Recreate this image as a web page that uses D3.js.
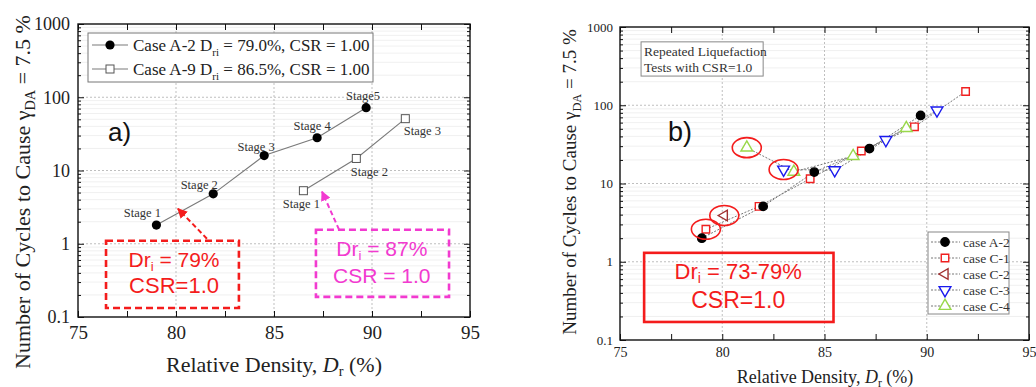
<!DOCTYPE html>
<html>
<head>
<meta charset="utf-8">
<script src="https://cdn.jsdelivr.net/npm/d3@7"></script>
<style>
  body { margin: 0; background: #fff; }
  svg { display: block; }
  .serif { font-family: "Liberation Serif", "Times New Roman", serif; }
  .sans { font-family: "Liberation Sans", Arial, sans-serif; }
</style>
</head>
<body>
<div id="chart"></div>
<script>
// ---- data ----
var xTicks = [75, 80, 85, 90, 95];
var xTickLabels = ["75", "80", "85", "90", "95"];
var yTicks = [0.1, 1, 10, 100, 1000];
var yTickLabels = ["0.1", "1", "10", "100", "1000"];

// panel a)
var caseA2Dr = [79.0, 81.9, 84.5, 87.2, 89.7];
var caseA2N = [1.8, 4.8, 16, 28, 72];
var caseA2Stages = ["Stage 1", "Stage 2", "Stage 3", "Stage 4", "Stage5"];
var caseA9Dr = [86.5, 89.2, 91.7];
var caseA9N = [5.3, 14.6, 51];
var caseA9Stages = ["Stage 1", "Stage 2", "Stage 3"];

// panel b)
var seriesNames = ["case A-2", "case C-1", "case C-2", "case C-3", "case C-4"];
var bA2Dr = [79.0, 82.0, 84.5, 87.2, 89.7];
var bA2N = [2.0, 5.1, 14, 28, 74];
var bC1Dr = [79.2, 81.8, 84.3, 86.8, 89.4, 91.9];
var bC1N = [2.6, 5.1, 11.5, 26, 53, 150];
var bC2Dr = [80.1];
var bC2N = [3.9];
var bC3Dr = [83.0, 85.5, 88.0, 90.5];
var bC3N = [15.1, 14.8, 36, 86];
var bC4Dr = [81.2, 83.5, 86.4, 89.0];
var bC4N = [28.7, 14.1, 22.4, 51];
var circled = [[4, 0], [3, 0], [2, 0], [1, 0]]; // [series, point] that are ringed

var W = 1036, H = 387;
var svg = d3.select("#chart").append("svg").attr("width", W).attr("height", H);

var defs = svg.append("defs");
function arrowMarker(id, color) {
    defs.append("marker")
        .attr("id", id)
        .attr("viewBox", "0 0 10 10")
        .attr("refX", 9).attr("refY", 5)
        .attr("markerWidth", 5).attr("markerHeight", 5)
        .attr("orient", "auto")
        .append("path").attr("d", "M0,0 L10,5 L0,10 z").attr("fill", color);
}
arrowMarker("arRed", "#f41c1c");
arrowMarker("arMag", "#f23ad0");

function minorY() {
    var v = [];
    for (var e = -1; e < 3; e++) for (var k = 2; k < 10; k++) v.push(k * Math.pow(10, e));
    return v;
}
function minorX() { return [77.5, 82.5, 87.5, 92.5]; }

// shared frame: grid, ticks on all four sides, labels
function frame(g, x, y, o) {
    var x0 = x.range()[0], x1 = x.range()[1], y0 = y.range()[0], y1 = y.range()[1];

    // minor y grid
    g.append("g").selectAll("line").data(minorY()).enter().append("line")
        .attr("x1", x0).attr("x2", x1)
        .attr("y1", function (d) { return y(d); }).attr("y2", function (d) { return y(d); })
        .style("stroke", "#ececec").style("stroke-width", 0.8);
    // major grid, dotted
    g.append("g").selectAll("line").data([80, 85, 90]).enter().append("line")
        .attr("x1", function (d) { return x(d); }).attr("x2", function (d) { return x(d); })
        .attr("y1", y0).attr("y2", y1)
        .style("stroke", "#b8b8b8").style("stroke-dasharray", "2,2").style("stroke-width", 0.9);
    g.append("g").selectAll("line").data([1, 10, 100]).enter().append("line")
        .attr("x1", x0).attr("x2", x1)
        .attr("y1", function (d) { return y(d); }).attr("y2", function (d) { return y(d); })
        .style("stroke", "#b8b8b8").style("stroke-dasharray", "2,2").style("stroke-width", 0.9);

    var major = 6, minor = 3;
    function ax(a, tr) {
        var gg = g.append("g").attr("transform", tr).call(a);
        gg.select(".domain").remove();
        gg.selectAll("line").style("stroke", "#111");
        return gg;
    }
    // bottom
    var bx = ax(d3.axisBottom(x).tickValues(xTicks).tickSize(-major).tickPadding(o.xPad)
        .tickFormat(function (d, i) { return xTickLabels[i]; }), "translate(0," + y0 + ")");
    bx.selectAll("text").attr("class", "serif").style("font-size", o.xFont + "px").style("fill", "#222");
    ax(d3.axisBottom(x).tickValues(minorX()).tickSize(-major).tickFormat(""), "translate(0," + y0 + ")");
    // top
    ax(d3.axisTop(x).tickValues(xTicks.concat(minorX())).tickSize(-major).tickFormat(""), "translate(0," + y1 + ")");
    // left
    var ly = ax(d3.axisLeft(y).tickValues(yTicks).tickSize(-major).tickPadding(o.yPad)
        .tickFormat(function (d, i) { return yTickLabels[i]; }), "translate(" + x0 + ",0)");
    ly.selectAll("text").attr("class", "serif").style("font-size", o.yFont + "px").style("fill", "#222");
    ax(d3.axisLeft(y).tickValues(minorY()).tickSize(-minor).tickFormat(""), "translate(" + x0 + ",0)");
    // right
    ax(d3.axisRight(y).tickValues(yTicks).tickSize(-major).tickFormat(""), "translate(" + x1 + ",0)");
    ax(d3.axisRight(y).tickValues(minorY()).tickSize(-minor).tickFormat(""), "translate(" + x1 + ",0)");

    g.append("rect")
        .attr("x", x0).attr("y", y1).attr("width", x1 - x0).attr("height", y0 - y1)
        .style("fill", "none").style("stroke", "#111").style("stroke-width", 1.4);

    // axis titles
    var xt = g.append("text").attr("class", "serif")
        .attr("x", o.xTitle[0]).attr("y", o.xTitle[1])
        .attr("text-anchor", "middle").style("font-size", o.titleFontX + "px").style("fill", "#222");
    xt.append("tspan").text("Relative Density, ");
    xt.append("tspan").style("font-style", "italic").text("D");
    xt.append("tspan").attr("dy", 4).style("font-size", (o.titleFontX * 0.65) + "px").text("r");
    xt.append("tspan").attr("dy", -4).text(" (%)");

    var yt = g.append("text").attr("class", "serif")
        .attr("transform", "translate(" + o.yTitle[0] + "," + o.yTitle[1] + ") rotate(-90)")
        .attr("text-anchor", "middle").style("font-size", o.titleFontY + "px").style("fill", "#222");
    yt.append("tspan").text("Number of Cycles to Cause \u03b3");
    yt.append("tspan").attr("dy", 5).style("font-size", (o.titleFontY * 0.65) + "px").text("DA");
    yt.append("tspan").attr("dy", -5).text(" = 7.5 %");
}

function subText(g, xx, yy, parts, size, color, anchor) {
    var t = g.append("text").attr("class", "sans")
        .attr("x", xx).attr("y", yy).attr("text-anchor", anchor || "middle")
        .style("font-size", size + "px").style("fill", color);
    parts.forEach(function (p) {
        var s = t.append("tspan").text(p[0]);
        if (p[1]) s.attr("dy", p[1]);
        if (p[2]) s.style("font-size", p[2] + "px");
    });
    return t;
}

// ================= panel a) =================
var xa = d3.scaleLinear().domain([75, 95]).range([78, 470]);
var ya = d3.scaleLog().domain([0.1, 1000]).range([317, 24]);
var ga = svg.append("g");
frame(ga, xa, ya, { xPad: 9, yPad: 8, xFont: 19, yFont: 18, titleFontX: 22, titleFontY: 22,
    xTitle: [274, 372], yTitle: [30, 192] });

var lineA = d3.line().x(function (d) { return xa(d[0]); }).y(function (d) { return ya(d[1]); });
var a2 = d3.zip(caseA2Dr, caseA2N), a9 = d3.zip(caseA9Dr, caseA9N);
ga.append("path").datum(a2).attr("d", lineA)
    .style("fill", "none").style("stroke", "#7a7a7a").style("stroke-width", 1.1);
ga.append("path").datum(a9).attr("d", lineA)
    .style("fill", "none").style("stroke", "#7a7a7a").style("stroke-width", 1.1);
ga.append("g").selectAll("circle").data(a2).enter().append("circle")
    .attr("cx", function (d) { return xa(d[0]); }).attr("cy", function (d) { return ya(d[1]); })
    .attr("r", 4.6).style("fill", "#000");
ga.append("g").selectAll("rect").data(a9).enter().append("rect")
    .attr("x", function (d) { return xa(d[0]) - 4; }).attr("y", function (d) { return ya(d[1]) - 4; })
    .attr("width", 8).attr("height", 8)
    .style("fill", "#fff").style("stroke", "#555").style("stroke-width", 1);

var a2Off = [[-14, -8], [-14, -5], [-8, -5], [-5, -8], [-3, -8]];
var a9Off = [[-2, 17], [13, 18], [17, 16]];
ga.append("g").selectAll("text").data(a2).enter().append("text").attr("class", "serif")
    .attr("x", function (d, i) { return xa(d[0]) + a2Off[i][0]; })
    .attr("y", function (d, i) { return ya(d[1]) + a2Off[i][1]; })
    .attr("text-anchor", "middle").style("font-size", "12.5px").style("fill", "#333")
    .text(function (d, i) { return caseA2Stages[i]; });
ga.append("g").selectAll("text").data(a9).enter().append("text").attr("class", "serif")
    .attr("x", function (d, i) { return xa(d[0]) + a9Off[i][0]; })
    .attr("y", function (d, i) { return ya(d[1]) + a9Off[i][1]; })
    .attr("text-anchor", "middle").style("font-size", "12.5px").style("fill", "#333")
    .text(function (d, i) { return caseA9Stages[i]; });

// legend a)
var lg = ga.append("g").attr("transform", "translate(88,33)");
lg.append("rect").attr("width", 285).attr("height", 49)
    .style("fill", "#fff").style("stroke", "#777").style("stroke-width", 1);
[["Case A-2 D", "ri", " = 79.0%, CSR = 1.00"], ["Case A-9 D", "ri", " = 86.5%, CSR = 1.00"]].forEach(function (r, i) {
    var cy = 12 + i * 24;
    lg.append("line").attr("x1", 4).attr("x2", 40).attr("y1", cy).attr("y2", cy)
        .style("stroke", "#7a7a7a").style("stroke-width", 1.1);
    if (i === 0) lg.append("circle").attr("cx", 22).attr("cy", cy).attr("r", 4.6).style("fill", "#000");
    else lg.append("rect").attr("x", 18).attr("y", cy - 4).attr("width", 8).attr("height", 8)
        .style("fill", "#fff").style("stroke", "#555");
    var t = lg.append("text").attr("class", "serif").attr("x", 45).attr("y", cy + 6)
        .style("font-size", "17px").style("fill", "#222");
    t.append("tspan").text(r[0]);
    t.append("tspan").attr("dy", 5).style("font-size", "11px").text(r[1]);
    t.append("tspan").attr("dy", -5).text(r[2]);
});

ga.append("text").attr("class", "sans").attr("x", xa(76.53)).attr("y", ya(34) + 9)
    .style("font-size", "26px").style("fill", "#111").text("a)");

// annotation boxes a)
ga.append("rect")
    .attr("x", xa(76.43)).attr("y", ya(1.1)).attr("width", xa(83.21) - xa(76.43)).attr("height", ya(0.133) - ya(1.1))
    .style("fill", "none").style("stroke", "#f41c1c").style("stroke-width", 2.6).style("stroke-dasharray", "7,4");
subText(ga, xa(79.9), ya(0.6) + 7, [["Dr"], ["i", 4, 13], [" = 79%", -4, 21]], 21, "#f41c1c");
subText(ga, xa(79.9), ya(0.27) + 8, [["CSR=1.0"]], 22, "#f41c1c");
ga.append("line")
    .attr("x1", xa(81.58)).attr("y1", ya(1.17)).attr("x2", xa(80.1)).attr("y2", ya(3.0))
    .style("stroke", "#f41c1c").style("stroke-width", 2).style("stroke-dasharray", "5,3")
    .attr("marker-end", "url(#arRed)");

ga.append("rect")
    .attr("x", xa(87.14)).attr("y", ya(1.555)).attr("width", xa(93.93) - xa(87.14)).attr("height", ya(0.188) - ya(1.555))
    .style("fill", "none").style("stroke", "#f23ad0").style("stroke-width", 2.6).style("stroke-dasharray", "7,4");
subText(ga, xa(90.5), ya(0.84) + 7, [["Dr"], ["i", 4, 13], [" = 87%", -4, 21]], 21, "#f23ad0");
subText(ga, xa(90.5), ya(0.37) + 8, [["CSR = 1.0"]], 21, "#f23ad0");
ga.append("line")
    .attr("x1", xa(88.32)).attr("y1", ya(1.555)).attr("x2", xa(87.45)).attr("y2", ya(5.15))
    .style("stroke", "#f23ad0").style("stroke-width", 2).style("stroke-dasharray", "5,3")
    .attr("marker-end", "url(#arMag)");

// ================= panel b) =================
var xb = d3.scaleLinear().domain([75, 95]).range([620, 1029]);
var yb = d3.scaleLog().domain([0.1, 1000]).range([340, 27]);
var gb = svg.append("g");
frame(gb, xb, yb, { xPad: 7, yPad: 7, xFont: 14, yFont: 13, titleFontX: 18, titleFontY: 19,
    xTitle: [825, 383], yTitle: [576, 182] });

var colors = ["#000000", "#f02020", "#a03030", "#1a1aee", "#99d84a"];
var symbols = [d3.symbolCircle, d3.symbolSquare, d3.symbolTriangle, d3.symbolTriangle, d3.symbolTriangle];
var sizes = [55, 56, 48, 60, 60];
var rotations = [0, 0, -90, 180, 0];
var bSeries = [d3.zip(bA2Dr, bA2N), d3.zip(bC1Dr, bC1N), d3.zip(bC2Dr, bC2N), d3.zip(bC3Dr, bC3N), d3.zip(bC4Dr, bC4N)];

var lineB = d3.line().x(function (d) { return xb(d[0]); }).y(function (d) { return yb(d[1]); });
bSeries.forEach(function (s) {
    gb.append("path").datum(s).attr("d", lineB)
        .style("fill", "none").style("stroke", "#777").style("stroke-width", 1).style("stroke-dasharray", "2,1.5");
});
function drawSym(g, i, px, py) {
    g.append("path")
        .attr("d", d3.symbol().type(symbols[i]).size(sizes[i]))
        .attr("transform", "translate(" + px + "," + py + ") rotate(" + rotations[i] + ")")
        .style("fill", i === 0 ? "#000" : "#fff")
        .style("stroke", colors[i]).style("stroke-width", 1.4);
}
[1, 2, 3, 4, 0].forEach(function (i) {
    bSeries[i].forEach(function (d) { drawSym(gb, i, xb(d[0]), yb(d[1])); });
});

// red rings
gb.append("g").selectAll("ellipse").data(circled).enter().append("ellipse")
    .attr("cx", function (d) { return xb(bSeries[d[0]][d[1]][0]); })
    .attr("cy", function (d) { return yb(bSeries[d[0]][d[1]][1]); })
    .attr("rx", 14.5).attr("ry", 10)
    .style("fill", "none").style("stroke", "#f41c1c").style("stroke-width", 1.6);

// info box
var ib = gb.append("g").attr("transform", "translate(" + xb(76.03) + "," + yb(646) + ")");
ib.append("rect").attr("width", xb(82.0) - xb(76.03)).attr("height", yb(236) - yb(646))
    .style("fill", "#fff").style("stroke", "#888").style("stroke-width", 1);
ib.append("text").attr("class", "serif").attr("x", 3).attr("y", 14)
    .style("font-size", "13.5px").style("fill", "#333").text("Repeated Liquefaction");
ib.append("text").attr("class", "serif").attr("x", 3).attr("y", 30)
    .style("font-size", "13.5px").style("fill", "#333").text("Tests with CSR=1.0");

gb.append("text").attr("class", "sans").attr("x", xb(77.35)).attr("y", yb(46) + 9)
    .style("font-size", "27px").style("fill", "#111").text("b)");

// legend b)
var lb = gb.append("g").attr("transform", "translate(928,232)");
lb.append("rect").attr("width", 81).attr("height", 82)
    .style("fill", "#fff").style("stroke", "#888").style("stroke-width", 1);
seriesNames.forEach(function (n, i) {
    var cy = 10 + i * 16;
    lb.append("line").attr("x1", 3).attr("x2", 32).attr("y1", cy).attr("y2", cy)
        .style("stroke", "#777").style("stroke-dasharray", "2,1.5");
    drawSym(lb, i, 17, cy);
    lb.append("text").attr("class", "serif").attr("x", 35).attr("y", cy + 4.5)
        .style("font-size", "13.5px").style("fill", "#333").text(n);
});

// red box b)
gb.append("rect")
    .attr("x", xb(76.18)).attr("y", yb(1.30)).attr("width", xb(85.44) - xb(76.18)).attr("height", yb(0.17) - yb(1.30))
    .style("fill", "none").style("stroke", "#f41c1c").style("stroke-width", 2.6);
subText(gb, xb(80.78), yb(0.74) + 7, [["Dr"], ["i", 4, 14], [" = 73-79%", -4, 22]], 22, "#f41c1c");
subText(gb, xb(80.78), yb(0.32) + 8, [["CSR=1.0"]], 23, "#f41c1c");
</script>
</body>
</html>
